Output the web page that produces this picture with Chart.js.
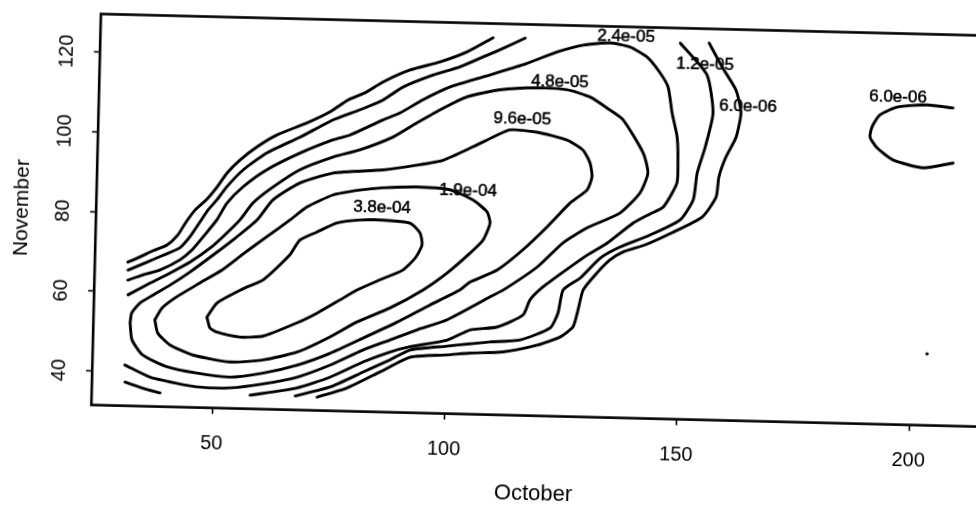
<!DOCTYPE html>
<html>
<head>
<meta charset="utf-8">
<title>October vs November density contours</title>
<script src="https://cdn.jsdelivr.net/npm/chart.js@4.4.1/dist/chart.umd.min.js"></script>
<style>
  html, body { margin: 0; padding: 0; background: #fff; overflow: hidden; width: 976px; height: 506px; }
  #wrap { position: absolute; left: 0; top: 0; width: 990px; height: 506px;
          transform: rotate(1.4deg); transform-origin: 488px 253px; }
  canvas { display: block; }
</style>
</head>
<body>
<div id="wrap"><canvas id="c" width="990" height="506"></canvas></div>
<script>
// Axis ticks
const xTicks = [50, 100, 150, 200];
const yTicks = [40, 60, 80, 100, 120];

// Contour level 3.8e-04 (closed)
const c38X = [48.4, 50.5, 56.0, 60.3, 65.9, 68.0, 71.6, 75.9, 80.8, 85.8, 91.6, 93.8, 94.3, 92.9, 90.3, 85.4, 80.5, 76.9, 72.1, 67.8, 60.6, 55.6, 50.6, 49.1, 48.4];
const c38Y = [54.2, 57.8, 61.5, 63.9, 70.3, 74.1, 76.2, 78.6, 79.5, 79.6, 79.0, 76.6, 73.6, 70.3, 67.2, 64.6, 61.9, 59.3, 55.9, 53.3, 49.8, 49.4, 50.5, 51.5, 54.2];

// Contour level 1.9e-04 (closed)
const c19X = [37.2, 38.7, 41.8, 46.7, 51.4, 55.8, 60.5, 65.8, 69.3, 74.9, 80.7, 85.6, 92.9, 100.0, 105.0, 108.1, 108.8, 107.4, 104.7, 99.8, 94.7, 87.7, 80.7, 75.0, 68.0, 60.7, 53.6, 45.6, 40.6, 37.9, 37.2];
const c19Y = [53.2, 56.2, 59.1, 62.7, 66.1, 70.2, 74.4, 79.1, 82.4, 85.6, 87.0, 87.7, 88.1, 87.6, 85.2, 82.3, 79.5, 75.2, 71.9, 66.7, 62.3, 57.6, 53.9, 50.0, 46.0, 43.8, 43.1, 44.6, 47.0, 49.9, 53.2];

// Contour level 9.6e-05 (closed)
const c96X = [31.9, 32.2, 33.9, 36.7, 40.3, 44.5, 49.4, 54.4, 58.7, 62.0, 67.7, 74.8, 85.5, 92.8, 98.4, 104.7, 109.0, 112.6, 118.4, 124.9, 128.4, 130.0, 130.5, 129.5, 125.9, 121.1, 116.0, 110.6, 104.8, 102.7, 96.3, 89.3, 82.1, 75.1, 68.0, 60.7, 53.7, 46.5, 40.1, 34.8, 32.4, 31.9];
const c96Y = [52.3, 54.8, 57.3, 59.4, 62.0, 65.4, 69.8, 74.5, 78.9, 84.0, 88.4, 91.1, 92.2, 93.6, 95.0, 98.5, 101.1, 103.0, 102.6, 100.8, 98.4, 95.2, 91.7, 88.4, 85.0, 78.9, 73.0, 67.8, 64.6, 62.6, 58.6, 54.1, 49.9, 45.9, 42.7, 40.5, 39.3, 40.1, 41.5, 44.3, 48.0, 52.3];

// Contour level 4.8e-05 (open at the left edge of the grid)
const c48X = [31.3, 36.0, 40.2, 44.5, 48.7, 51.8, 55.0, 57.7, 61.9, 67.6, 74.7, 80.5, 87.5, 92.6, 97.5, 103.2, 110.3, 118.2, 124.7, 129.7, 134.0, 136.9, 141.4, 142.5, 140.9, 136.7, 129.7, 124.6, 119.2, 112.0, 109.2, 100.1, 93.7, 87.9, 82.1, 75.1, 68.1, 60.8, 53.7, 47.3, 41.9, 36.5, 31.0];
const c48Y = [59.3, 62.4, 65.0, 67.9, 71.5, 74.9, 78.8, 83.1, 87.2, 91.7, 95.1, 97.1, 100.5, 104.2, 107.6, 111.0, 113.0, 113.7, 113.4, 111.7, 108.6, 106.2, 98.0, 93.0, 88.0, 82.8, 78.9, 75.0, 68.8, 62.8, 61.0, 55.0, 52.3, 49.6, 46.9, 42.9, 39.7, 37.8, 36.6, 36.6, 37.5, 38.8, 41.7];

// Contour level 2.4e-05 (main piece and the short piece in the lower left corner)
const c24aX = [31.2, 34.4, 38.0, 42.3, 44.8, 47.5, 50.0, 52.1, 55.5, 60.5, 67.6, 74.6, 78.2, 85.2, 88.9, 93.7, 99.5, 106.5, 115.1, 122.3, 127.9, 133.7, 138.0, 141.7, 144.6, 146.4, 147.4, 148.6, 148.9, 148.8, 146.0, 143.2, 139.6, 134.1, 129.9, 124.8, 120.5, 117.8, 116.4, 110.9, 105.1, 100.2, 92.2, 88.0, 82.2, 75.2, 68.1, 58.1];
const c24aY = [63.0, 64.4, 65.7, 68.4, 70.9, 74.8, 78.6, 82.9, 87.1, 91.5, 95.9, 99.4, 100.7, 104.7, 106.6, 110.0, 113.4, 116.1, 119.4, 122.8, 124.7, 125.4, 124.5, 122.1, 118.2, 114.7, 108.2, 102.3, 96.5, 90.7, 84.6, 82.8, 80.4, 75.2, 72.1, 67.7, 63.8, 60.5, 56.7, 53.5, 52.6, 49.9, 48.0, 46.6, 43.9, 39.9, 37.0, 34.9];
const c24bX = [31.1, 35.0, 38.7];
const c24bY = [37.4, 36.0, 34.9];

// Contour level 1.2e-05 (left and right pieces, cut by the top of the grid)
const c12aX = [31.2, 34.8, 38.4, 42.2, 44.3, 46.4, 48.1, 49.9, 52.0, 55.4, 60.4, 67.5, 74.5, 80.2, 85.1, 89.4, 95.8, 101.5, 106.4, 110.0, 115.4];
const c12aY = [65.5, 67.4, 69.3, 71.4, 74.2, 78.0, 81.1, 83.6, 87.0, 91.3, 95.7, 99.9, 104.4, 107.1, 109.7, 113.1, 116.3, 118.5, 121.1, 123.0, 126.1];
const c12bX = [148.8, 154.7, 156.2, 154.7, 153.1, 152.4, 149.7, 143.3, 136.9, 132.7, 128.5, 124.9, 123.9, 122.3, 115.9, 109.4, 105.1, 100.2, 92.3, 88.0, 82.3, 75.2, 67.8];
const c12bY = [125.8, 118.0, 108.5, 99.9, 93.3, 86.6, 81.5, 77.5, 74.3, 71.4, 66.3, 63.2, 57.4, 53.6, 50.4, 49.7, 49.1, 48.4, 47.2, 44.6, 41.4, 37.4, 35.0];

// Contour level 6.0e-06 (left piece, right piece and the small island on the right)
const c06aX = [31.1, 33.7, 36.4, 39.4, 41.7, 43.4, 45.3, 47.8, 49.9, 52.0, 54.7, 58.3, 62.5, 68.9, 73.8, 77.6, 81.2, 85.0, 90.8, 97.2, 103.0, 108.5];
const c06aY = [67.5, 68.9, 70.5, 72.0, 74.6, 77.9, 81.0, 83.8, 86.9, 90.5, 93.8, 97.2, 100.3, 103.5, 106.4, 109.5, 111.4, 114.2, 117.4, 119.6, 122.3, 126.0];
const c06bX = [155.0, 157.9, 161.0, 162.2, 161.3, 159.2, 157.8, 157.3, 154.4, 148.0, 142.3, 137.6, 134.8, 132.1, 129.2, 128.2, 127.2, 124.5, 119.6, 112.3, 105.2, 100.3, 92.3, 85.9, 78.9, 72.5];
const c06bY = [126.0, 120.1, 114.4, 108.7, 102.6, 97.5, 92.5, 87.4, 82.3, 78.2, 75.0, 73.1, 71.0, 67.7, 63.3, 58.3, 54.0, 51.4, 49.2, 47.3, 46.8, 46.2, 45.4, 41.5, 37.3, 34.8];
const c06cX = [207.8, 202.2, 195.8, 192.1, 190.5, 190.1, 191.7, 195.2, 201.7, 208.1];
const c06cY = [111.2, 111.8, 111.1, 109.0, 106.0, 103.4, 100.7, 97.8, 96.0, 97.4];

// Lone point
const dotX = [203.5];
const dotY = [49.4];

// Contour level labels
const levelText = ['3.8e-04', '1.9e-04', '9.6e-05', '4.8e-05', '2.4e-05', '1.2e-05', '6.0e-06', '6.0e-06'];
const labelX = [85.5, 103.9, 115.2, 123.1, 137.1, 154.2, 163.7, 195.9];
const labelY = [82.6, 87.4, 105.8, 115.3, 127.0, 120.5, 110.2, 113.6];

const FONT = '"Liberation Sans", Arial, Helvetica, sans-serif';
Chart.defaults.font.family = FONT;
Chart.defaults.color = '#000';

const pts = (xs, ys) => xs.map((x, i) => ({ x, y: ys[i] }));

const pieces = [
  [c38X, c38Y], [c19X, c19Y], [c96X, c96Y], [c48X, c48Y],
  [c24aX, c24aY], [c24bX, c24bY],
  [c12aX, c12aY], [c12bX, c12bY],
  [c06aX, c06aY], [c06bX, c06bY], [c06cX, c06cY]
];

const datasets = pieces.map(([xs, ys]) => ({
  data: pts(xs, ys),
  showLine: true,
  borderColor: '#000',
  borderWidth: 2.9,
  pointRadius: 0,
  tension: 0.2,
  fill: false,
  borderCapStyle: 'round',
  borderJoinStyle: 'round'
}));
datasets.push({
  data: pts(dotX, dotY),
  showLine: false,
  pointRadius: 1.7,
  pointBackgroundColor: '#000',
  pointBorderWidth: 0
});

// Box around the plotting region
const frame = {
  id: 'frame',
  afterDatasetsDraw(chart) {
    const { ctx, chartArea: { left, top, right, bottom } } = chart;
    ctx.save();
    ctx.strokeStyle = '#000';
    ctx.lineWidth = 2.6;
    ctx.strokeRect(left, top, right - left, bottom - top);
    ctx.restore();
  }
};

// Level values written on the contours
const levelLabels = {
  id: 'levelLabels',
  afterDatasetsDraw(chart) {
    const { ctx, scales: { x, y } } = chart;
    ctx.save();
    ctx.fillStyle = '#000';
    ctx.strokeStyle = '#000';
    ctx.lineWidth = 0.5;
    ctx.font = '17px ' + FONT;
    ctx.textAlign = 'center';
    ctx.textBaseline = 'middle';
    levelText.forEach((t, i) => {
      const px = x.getPixelForValue(labelX[i]);
      const py = y.getPixelForValue(labelY[i]);
      ctx.fillText(t, px, py);
      ctx.strokeText(t, px, py);
    });
    ctx.restore();
  }
};

const tickGrid = {
  display: true,
  drawOnChartArea: false,
  drawTicks: true,
  tickLength: 6,
  tickWidth: 1.6,
  tickColor: '#000',
  color: '#000'
};

new Chart(document.getElementById('c'), {
  type: 'scatter',
  data: { datasets },
  plugins: [frame, levelLabels],
  options: {
    responsive: false,
    animation: false,
    devicePixelRatio: 1,
    layout: { padding: { left: 0, top: 23.5, right: 7.2, bottom: 0 } },
    plugins: { legend: { display: false }, tooltip: { enabled: false } },
    scales: {
      x: {
        type: 'linear',
        min: 24,
        max: 215,
        afterBuildTicks: s => { s.ticks = xTicks.map(v => ({ value: v })); },
        afterFit: s => { s.height = 91.4; },
        border: { display: false },
        grid: tickGrid,
        ticks: { color: '#000', font: { size: 20 }, padding: 17.4, autoSkip: false, minRotation: 0, maxRotation: 0 },
        title: { display: true, text: 'October', color: '#000', font: { size: 22 }, padding: { top: 0, bottom: 0 } }
      },
      y: {
        type: 'linear',
        min: 31.47,
        max: 129.55,
        afterBuildTicks: s => { s.ticks = yTicks.map(v => ({ value: v })); },
        afterFit: s => { s.width = 95.2; },
        border: { display: false },
        grid: tickGrid,
        ticks: { color: '#000', font: { size: 20 }, padding: 10.5, autoSkip: false, minRotation: 90, maxRotation: 90, crossAlign: 'center' },
        title: { display: true, text: 'November', color: '#000', font: { size: 21 }, padding: { top: 8.4, bottom: 0 } }
      }
    }
  }
});
</script>
</body>
</html>
